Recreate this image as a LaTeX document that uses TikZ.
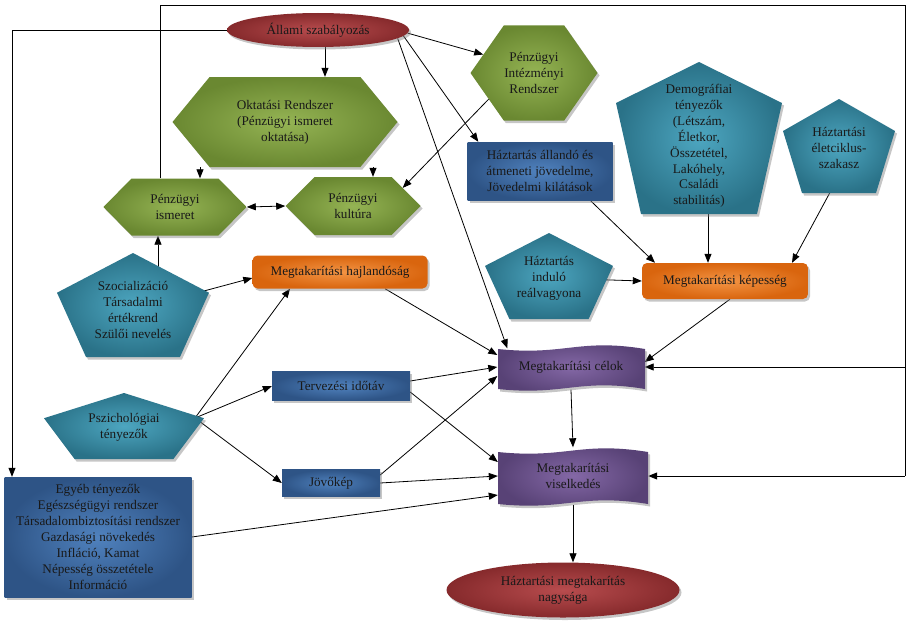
\documentclass[tikz,border=0pt]{standalone}
\usepackage{fontspec}
\setmainfont{Liberation Serif}
\usetikzlibrary{arrows}
\usetikzlibrary{arrows.meta}
\usetikzlibrary{shapes.geometric,shapes.symbols,shadows,backgrounds}

\definecolor{redin}{HTML}{B84C4E}
\definecolor{redout}{HTML}{862A2C}
\definecolor{grnin}{HTML}{95B454}
\definecolor{grnout}{HTML}{6A8831}
\definecolor{tealin}{HTML}{4DA6C0}
\definecolor{tealout}{HTML}{2A7288}
\definecolor{bluin}{HTML}{5082BE}
\definecolor{bluout}{HTML}{2E5486}
\definecolor{orin}{HTML}{F39444}
\definecolor{orout}{HTML}{D9650E}
\definecolor{purin}{HTML}{8468A6}
\definecolor{purout}{HTML}{584276}

\begin{document}
\begin{tikzpicture}[x=1pt,y=-1pt,
    txt/.style={font=\fontsize{13.2}{15.9}\selectfont, text=black!90, align=center},
    shad/.style={drop shadow={opacity=0.45,shadow xshift=2pt,shadow yshift=-2.5pt}},
    oval/.style={txt, ellipse, shad, inner color=redin, outer color=redout, inner sep=0pt},
    hexa/.style={txt, signal, signal to=east and west, shad, inner color=grnin, outer color=grnout, inner sep=0pt},
    bluebox/.style={txt, rectangle, shad, inner color=bluin, outer color=bluout, inner sep=2pt},
    orbox/.style={txt, rectangle, rounded corners=5pt, shad, inner color=orin, outer color=orout},
    pent/.style={shad, inner color=tealin, outer color=tealout},
    wave/.style={shad, inner color=purin, outer color=purout},
    lnk/.style={draw=black, line width=0.8pt},
    arr/.style={lnk, arrows={-Triangle[length=9pt,width=7pt]}},
    arr2/.style={lnk, arrows={Triangle[length=9pt,width=7pt]-Triangle[length=9pt,width=7pt]}}
]
\useasboundingbox (0,0) rectangle (912,626);

% felso sor
\node[oval, minimum width=182pt, minimum height=34pt] (allami) at (318,30) {Állami szabályozás};
\node[hexa, minimum width=127pt, minimum height=95pt, signal pointer angle=110] (intez) at (534,73) {Pénzügyi\\Intézményi\\Rendszer};
\node[hexa, minimum width=225pt, minimum height=90pt, signal pointer angle=101] (oktat) at (285,122) {Oktatási Rendszer\\(Pénzügyi ismeret\\oktatása)};
\node[hexa, minimum width=143pt, minimum height=57pt, signal pointer angle=91] (ism) at (175,207) {Pénzügyi\\ismeret};
\node[hexa, minimum width=135pt, minimum height=58pt, signal pointer angle=90] (kult) at (353,206) {Pénzügyi\\kultúra};
\node[bluebox, minimum width=145pt, minimum height=58pt] (jov) at (540,171) {Háztartás állandó és\\átmeneti jövedelme,\\Jövedelmi kilátások};

% otszogek
\path[pent] (699,62) -- (782,103) -- (757,214) -- (641,214) -- (616,103) -- cycle;
\node[txt] (demogr) at (699,146) {Demográfiai\\tényezők\\(Létszám,\\Életkor,\\Összetétel,\\Lakóhely,\\Családi\\stabilitás)};
\path[pent] (839,99) -- (895,131) -- (876,193) -- (802,193) -- (783,131) -- cycle;
\node[txt] (eletc) at (839,148) {Háztartási\\életciklus-\\szakasz};
\path[pent] (549,233) -- (613,265.9) -- (588.6,319) -- (509.4,319) -- (485,265.9) -- cycle;
\node[txt] (indulo) at (549,278) {Háztartás\\induló\\reálvagyona};
\path[pent] (133,253) -- (209,292.7) -- (180,357) -- (86,357) -- (57,292.7) -- cycle;
\node[txt] (szoc) at (133,310) {Szocializáció\\Társadalmi\\értékrend\\Szülői nevelés};
\path[pent] (124,393) -- (204,418.2) -- (173.4,459) -- (74.6,459) -- (44,418.2) -- cycle;
\node[txt] (pszich) at (124,427) {Pszichológiai\\tényezők};
\coordinate (szocup) at (158,270);
\coordinate (pszir) at (195,418);
\coordinate (demb) at (708,200);
\coordinate (eletcb) at (834,185);

% kozepso resz
\node[orbox, minimum width=175pt, minimum height=33pt] (hajl) at (340,272) {Megtakarítási hajlandóság};
\node[orbox, minimum width=166pt, minimum height=36pt] (kep) at (725,281) {Megtakarítási képesség};
\node[bluebox, minimum width=138pt, minimum height=29pt] (terv) at (341,386) {Tervezési időtáv};
\node[bluebox, minimum width=98pt, minimum height=27pt] (jovokep) at (331,483) {Jövőkép};

\path[wave] (498,349) .. controls (564,356) and (579,338) .. (645,349) -- (645,389) .. controls (579,378) and (564,396) .. (498,389) -- cycle;
\node[txt, minimum width=147pt, minimum height=45pt] (celok) at (571,367) {Megtakarítási célok};
\path[wave] (498,452) .. controls (565.5,459) and (580.5,441) .. (648,452) -- (648,504) .. controls (580.5,493) and (565.5,511) .. (498,504) -- cycle;
\node[txt, minimum width=150pt, minimum height=57pt] (visel) at (573,476) {Megtakarítási\\viselkedés};

% also sor
\node[bluebox, minimum width=187pt, minimum height=120pt] (egyeb) at (98,537) {Egyéb tényezők\\Egészségügyi rendszer\\Társadalombiztosítási rendszer\\Gazdasági növekedés\\Infláció, Kamat\\Népesség összetétele\\Információ};
\node[oval, minimum width=233pt, minimum height=55pt] (nagys) at (563,590) {Háztartási megtakarítás\\nagysága};

\coordinate (lft) at (12,30);
\coordinate (frtl) at (160,5);
\coordinate (frtr) at (905,5);

\begin{pgfonlayer}{background}
    \draw[arr] ([xshift=7pt]allami.south) -- ([xshift=40pt]oktat.north);
    \draw[arr] (allami.-2) -- (intez.160);
    \draw[arr] (allami.-4) -- ([xshift=11pt]jov.north west);
    \draw[arr] (allami.-6) -- ([xshift=10pt,yshift=-4pt]celok.north west);
    \draw[arr] (allami.west) -- (lft) -- (lft |- egyeb.north);

    \draw[arr] ([xshift=-85pt]oktat.south) -- ([xshift=25pt]ism.north);
    \draw[arr] ([xshift=88pt]oktat.south) -- ([xshift=20pt]kult.north);
    \draw[arr2] (ism.east) -- (kult.west);
    \draw[arr] (intez.-150) -- (kult.20);

    \draw[arr] (szocup) -- (szocup |- ism.south);
    \draw[arr] (szoc) -- ([yshift=-6pt]hajl.west);
    \draw[arr] (pszir) -- ([xshift=-50pt]hajl.south);
    \draw[arr] (pszir) -- (terv.west);
    \draw[arr] (pszir) -- (jovokep.west);

    \draw[arr] ([xshift=45pt]hajl.south) -- ([yshift=12pt]celok.west);
    \draw[arr] ([yshift=5pt]terv.east) -- (celok.west);
    \draw[arr] ([yshift=-6pt]terv.east) -- ([yshift=14pt]visel.west);
    \draw[arr] ([yshift=8pt]jovokep.east) -- ([yshift=-9pt]celok.west);
    \draw[arr] (jovokep.east) -- (visel.west);
    \draw[arr] (egyeb.east) -- ([yshift=-19pt]visel.west);

    \draw[arr] ([xshift=50pt]jov.south) -- ([xshift=-70pt]kep.north);
    \draw[arr] (demb) -- (demb |- kep.north);
    \draw[arr] (eletcb) -- ([xshift=67pt]kep.north);
    \draw[arr] (indulo) -- (kep.west);
    \draw[arr] ([xshift=5pt]kep.south) -- ([yshift=5pt]celok.east);

    \draw[arr] (celok.south) -- (visel.north);
    \draw[arr] (visel.south) -- (visel.south |- nagys.north);

    \draw[lnk] (frtl |- ism.north) -- (frtl) -- (frtr) -- (frtr |- visel.east);
    \draw[arr] (frtr |- celok.east) -- (celok.east);
    \draw[arr] (frtr |- visel.east) -- (visel.east);
\end{pgfonlayer}
\end{tikzpicture}
\end{document}
